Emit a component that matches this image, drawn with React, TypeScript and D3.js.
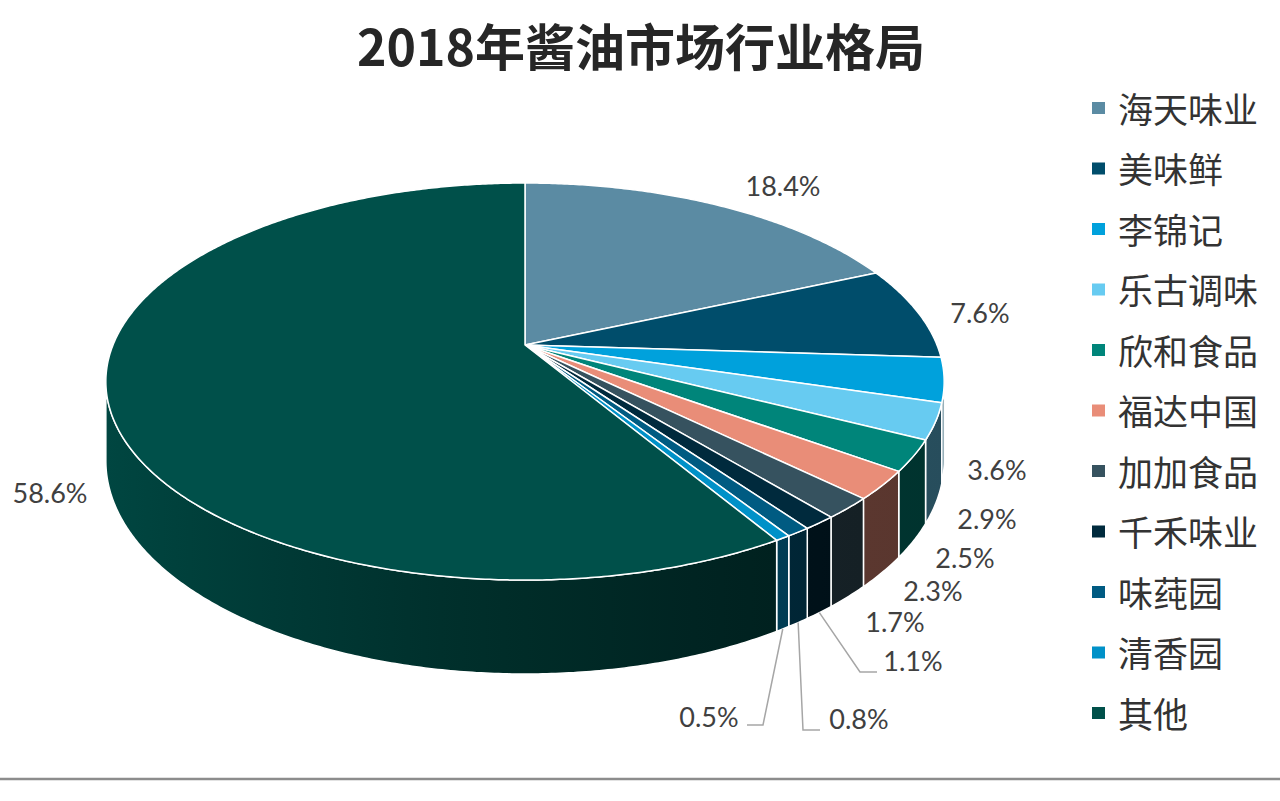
import React from 'react';
import * as d3 from 'd3';

// 2018 soy sauce market share
const companies = ['海天味业', '美味鲜', '李锦记', '乐古调味', '欣和食品', '福达中国', '加加食品', '千禾味业', '味莼园', '清香园', '其他'];
const shares = [18.4, 7.6, 3.6, 2.9, 2.5, 2.3, 1.7, 1.1, 0.8, 0.5, 58.6];
const palette = ['#5B8BA3', '#004D6B', '#00A1DC', '#67CBF1', '#00857A', '#E98D78', '#36525F', '#002A3D', '#005B82', '#0091C8', '#00504A'];
const title = '2018年酱油市场行业格局';

// label placement (Excel-style outside labels), and elbows for the leader lines
const labelAt: [number, number][] = [
  [783, 185], [980, 312], [997, 469], [987, 518], [965, 557], [933, 590],
  [895, 621], [913, 660], [859, 718], [709, 716], [50, 492]
];
const leaderElbows: Record<number, [number, number][]> = {
  7: [[860, 672], [877, 672]],
  8: [[803, 730], [820, 730]],
  9: [[763, 725], [747, 725]]
};

const W = 1280;
const H = 801;

// perspective projection of the pie disc
const cx = 525;
const cy = 345;
const rx = 412;
const ry = 191.8;
const persp = 0.184;
const depth = 76.7;

function project(a: number, r = 1, down = 0): [number, number] {
  const u = r * Math.sin(a);
  const v = r * Math.cos(a);
  const w = 1 + persp * v;
  return [cx + (rx * u) / w, cy - (ry * v) / w + (down * depth) / w];
}

function arcPoints(a0: number, a1: number, down = 0) {
  const n = Math.max(2, Math.ceil(Math.abs(a1 - a0) / (Math.PI / 360)));
  return d3.range(n + 1).map(i => project(a0 + ((a1 - a0) * i) / n, 1, down));
}

const line = d3.line<[number, number]>();

const visStart = Math.PI / 2 + Math.asin(persp);
const visEnd = (3 * Math.PI) / 2 - Math.asin(persp);

const xLeft = project(-visStart)[0];
const xRight = project(visStart)[0];

function shade(color: string, f: number) {
  const c = d3.rgb(color);
  return d3.rgb(c.r * f, c.g * f, c.b * f).formatHex();
}

export default function App() {
  const arcs = d3.pie<number>().sort(null).value(d => d)(shares);
  const stops = d3.range(0, 1.0001, 0.1);

  return (
    <svg width={W} height={H} style={{ position: 'absolute', left: 0, top: 0, background: '#fff' }}>
      <defs>
        {palette.map((c, i) => (
          <linearGradient key={i} id={`side-${i}`} gradientUnits="userSpaceOnUse" x1={xLeft} x2={xRight} y1={0} y2={0}>
            {stops.map(t => (
              <stop key={t} offset={t} stopColor={shade(c, 0.38 + 0.5 * Math.pow(1 - t, 1.6))} />
            ))}
          </linearGradient>
        ))}
      </defs>

      <text x={641} y={66} textAnchor="middle" fontFamily="'Noto Sans CJK SC'" fontWeight="bold" fontSize={50} fill="#262626">
        {title}
      </text>

      {/* side walls */}
      <g stroke="#fff" strokeWidth={1.5} strokeLinejoin="round">
        {arcs.map((d, i) => {
          const a0 = Math.max(d.startAngle, visStart);
          const a1 = Math.min(d.endAngle, visEnd);
          if (a1 <= a0) return null;
          const pts = [...arcPoints(a0, a1, 0), ...arcPoints(a1, a0, 1)];
          return <path key={i} d={line(pts) + 'Z'} fill={`url(#side-${i})`} />;
        })}
      </g>

      {/* top faces */}
      <g stroke="#fff" strokeWidth={1.5} strokeLinejoin="round">
        {arcs.map((d, i) => {
          const pts: [number, number][] = [[cx, cy], ...arcPoints(d.startAngle, d.endAngle, 0)];
          return <path key={i} d={line(pts) + 'Z'} fill={palette[i]} />;
        })}
      </g>

      {/* leader lines */}
      <g fill="none" stroke="#A6A6A6" strokeWidth={1.5}>
        {arcs.map((d, i) => {
          const elbow = leaderElbows[i];
          if (!elbow) return null;
          const start = project((d.startAngle + d.endAngle) / 2, 1, 1);
          return <path key={i} d={line([start, ...elbow]) ?? ''} />;
        })}
      </g>

      {/* data labels */}
      <g fontFamily="Lato, 'Open Sans', sans-serif" fontSize={27} fill="#404040" textAnchor="middle">
        {shares.map((v, i) => (
          <text key={i} x={labelAt[i][0]} y={labelAt[i][1]} dominantBaseline="central">
            {d3.format('.1f')(v)}%
          </text>
        ))}
      </g>

      {/* legend */}
      <g>
        {companies.map((name, i) => {
          const y = 108 + i * 60.5;
          return (
            <g key={name}>
              <rect x={1092} y={y - 6} width={13} height={12} fill={palette[i]} />
              <text x={1118} y={y - 1} dominantBaseline="central" fontFamily="'Noto Sans CJK SC'" fontSize={35} fill="#333">
                {name}
              </text>
            </g>
          );
        })}
      </g>

      <line x1={0} x2={W} y1={779} y2={779} stroke="#8C8C8C" strokeWidth={2.5} />
    </svg>
  );
}
